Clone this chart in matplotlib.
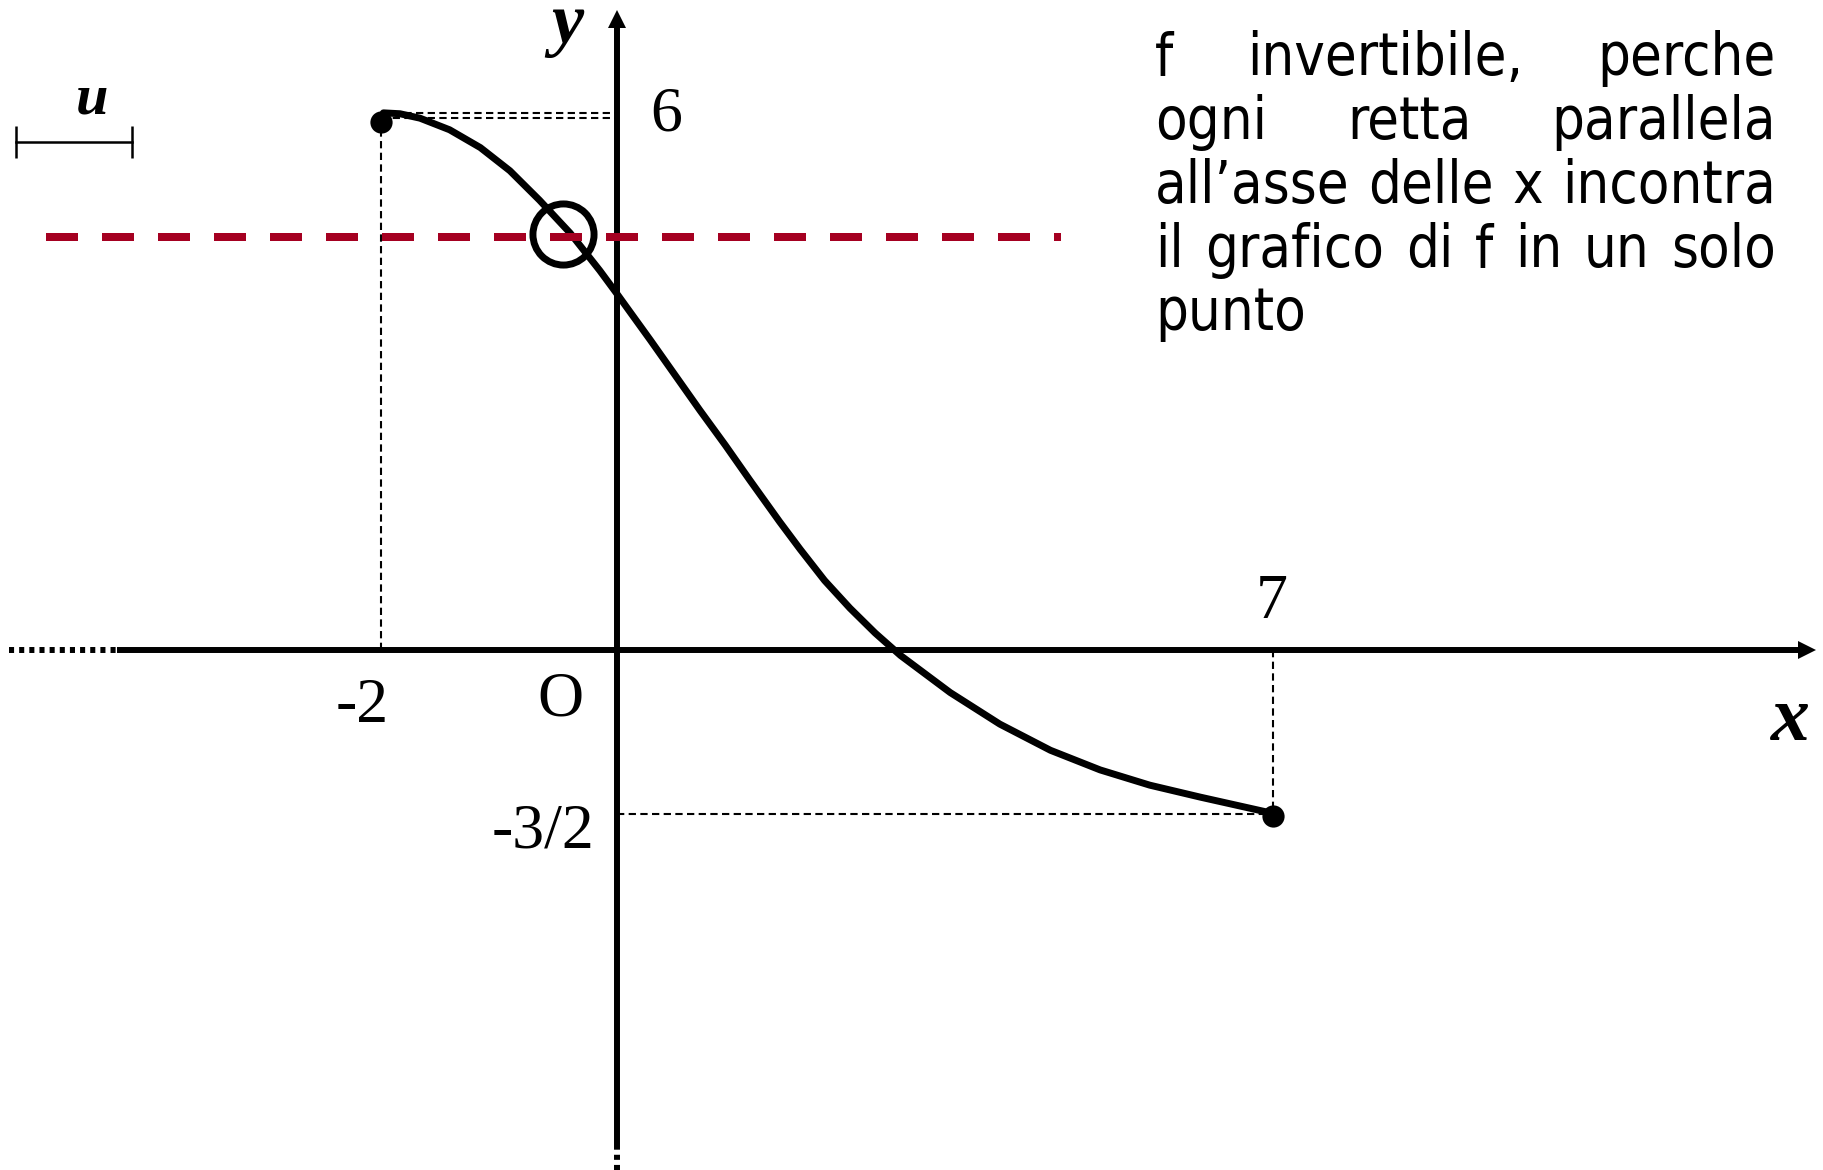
import os
import numpy as np
import matplotlib
matplotlib.use('Agg')
import matplotlib.pyplot as plt
from matplotlib import font_manager
from matplotlib.transforms import Affine2D

# ---- data ----
curve_x = [-1.98, -1.84, -1.67, -1.42, -1.16, -0.91, -0.66, -0.40, -0.15, 0.00,
           0.35, 0.88, 1.15, 1.41, 1.73, 1.95, 2.21, 2.48, 2.75, 3.02,
           3.55, 4.08, 4.62, 5.15, 5.68, 6.22, 7.00]
curve_y = [6.03, 6.02, 5.97, 5.84, 5.64, 5.38, 5.05, 4.68, 4.26, 3.99,
           3.48, 2.69, 2.30, 1.91, 1.44, 1.13, 0.78, 0.47, 0.19, -0.05,
           -0.39, -0.68, -0.92, -1.10, -1.24, -1.35, -1.50]
end_x = [-2, 7]
end_y = [6, -1.5]
dot_y = [5.93, -1.52]    # the drawn dots sit a touch below the end values
level_y = 4.64           # horizontal line y = k
level_x = [-4.83, 4.73]
hit_x, hit_y = -0.46, 4.67
x_ticks = [-2, 7]
x_tick_labels = ['-2', '7']
y_ticks = [6, -1.5]
y_tick_labels = ['6', '-3/2']
note_lines = ['f invertibile, perche',
              'ogni retta parallela',
              'all\u2019asse delle x incontra',
              'il grafico di f in un solo',
              'punto']

W, H = 1824, 1170
OX, OY = 617.5, 650.0           # origin in picture pixels (top-down)
XN, XP = 118.25, 93.71          # px per unit, x<0 / x>0 (sketch is not to scale)
YP, YN = 89.08, 109.0           # px per unit, y>0 / y<0
RED = '#a50021'


def fwd_x(x):
    x = np.asarray(x, dtype=float)
    return np.where(x < 0, x * XN, x * XP)


def inv_x(u):
    u = np.asarray(u, dtype=float)
    return np.where(u < 0, u / XN, u / XP)


def fwd_y(y):
    y = np.asarray(y, dtype=float)
    return np.where(y < 0, y * YN, y * YP)


def inv_y(v):
    v = np.asarray(v, dtype=float)
    return np.where(v < 0, v / YN, v / YP)


def dx(px):
    return float(inv_x(px - OX))


def dy(py):
    return float(inv_y(OY - py))


fig = plt.figure(figsize=(W / 100, H / 100), dpi=100)
ax = fig.add_axes([0, 0, 1, 1])
ax.set_xscale('function', functions=(fwd_x, inv_x))
ax.set_yscale('function', functions=(fwd_y, inv_y))
ax.set_xlim(dx(0), dx(W))
ax.set_ylim(dy(H), dy(0))
ax.axis('off')

pix = Affine2D().scale(1, -1).translate(0, H)   # picture pixels, y down

# axes with arrows
ax_lw = 4.3
ax.plot([dx(117), dx(1800)], [0, 0], color='black', lw=ax_lw, solid_capstyle='butt', zorder=3)
ax.plot([dx(9), dx(117)], [0, 0], color='black', lw=ax_lw, dashes=(0.85, 0.85),
        solid_capstyle='butt', dash_capstyle='butt', zorder=3)
ax.plot([dx(1807)], [0], marker='>', ms=13, color='black', mew=0, zorder=3)
ax.plot([0, 0], [dy(1148), dy(25)], color='black', lw=ax_lw, solid_capstyle='butt', zorder=3)
ax.plot([0, 0], [dy(H), dy(1148)], color='black', lw=ax_lw, dashes=(0.85, 0.85),
        dash_capstyle='butt', zorder=3)
ax.plot([0], [dy(19)], marker='^', ms=13, color='black', mew=0, zorder=3)

# guide lines to the end points
g = dict(color='black', lw=1.5, dashes=(3.5, 2.1), zorder=2)
ax.plot([end_x[0], end_x[0]], [0, end_y[0]], **g)
ax.plot([end_x[0], 0], [end_y[0] + 0.025] * 2, **g)
ax.plot([end_x[0], 0], [end_y[0] - 0.025] * 2, **g)
ax.plot([end_x[1], end_x[1]], [0, end_y[1]], **g)
ax.plot([0, end_x[1]], [end_y[1]] * 2, **g)

# the function
ax.plot(curve_x, curve_y, color='black', lw=5, solid_capstyle='round',
        solid_joinstyle='round', zorder=4)
ax.plot(end_x, dot_y, 'o', color='black', ms=16, mew=0, zorder=6)

# horizontal line and intersection
ax.plot(level_x, [level_y, level_y], color=RED, lw=5.76, dashes=(4, 3),
        dash_capstyle='butt', zorder=5)
ax.plot([hit_x], [hit_y], 'o', ms=44, mfc='none', mec='black', mew=5, zorder=6)

# unit bar
ax.plot([dx(16), dx(132)], [dy(142)] * 2, color='black', lw=1.8, marker='|',
        ms=23, mew=1.8, zorder=3)

# labels
serif = 'Liberation Serif'
pt = 0.72
offsets = {'-2': (-19, -72), '7': (-1.5, 32)}
for xv, lab in zip(x_ticks, x_tick_labels):
    ox, oy = offsets[lab]
    ax.annotate(lab, (xv, 0), xytext=(ox * pt, oy * pt), textcoords='offset points',
                ha='center', va='baseline', fontsize=46, family=serif)
ax.annotate(y_tick_labels[0], (0, y_ticks[0]), xytext=(48.5 * pt, -14.5 * pt),
            textcoords='offset points', ha='center', va='baseline', fontsize=46, family=serif)
ax.annotate(y_tick_labels[1], (0, y_ticks[1]), xytext=(-23.5 * pt, -34.5 * pt),
            textcoords='offset points', ha='right', va='baseline', fontsize=46, family=serif)
ax.annotate('O', (0, 0), xytext=(-57.5 * pt, -65 * pt), textcoords='offset points',
            ha='center', va='baseline', fontsize=46, family=serif)
fig.text(1790, 740, 'x', transform=pix, ha='center', va='baseline', fontsize=56,
         family=serif, style='italic', weight='bold')
fig.text(567, 43, 'y', transform=pix, ha='center', va='baseline', fontsize=52,
         family=serif, style='italic', weight='bold')
fig.text(92, 113, 'u', transform=pix, ha='center', va='baseline', fontsize=42,
         family=serif, style='italic', weight='bold')


# justified note, top right
def note_font():
    wanted = ['DejaVuSansCondensed.ttf', 'LiberationSansNarrow-Regular.ttf']
    files = {os.path.basename(f.fname): f.fname for f in font_manager.fontManager.ttflist}
    for name in wanted:
        if name in files:
            return font_manager.FontProperties(fname=files[name])
    return font_manager.FontProperties(family='DejaVu Sans')


renderer = fig.canvas.get_renderer()


def width(s, fp):
    t = fig.text(0, 0, s, fontproperties=fp)
    w = t.get_window_extent(renderer).width
    t.remove()
    return w


left, right = 1155, 1776
fp = note_font()
fp.set_size(41.5)
widest = width(note_lines[2], fp)
if widest > right - left:
    fp.set_size(41.5 * (right - left) / widest)

baselines = [75, 139, 203, 267, 330]
for i, (line, base) in enumerate(zip(note_lines, baselines)):
    words = line.split()
    if i == len(note_lines) - 1 or len(words) == 1:
        fig.text(left, base, line, transform=pix, ha='left', va='baseline', fontproperties=fp)
        continue
    ws = [width(w_, fp) for w_ in words]
    gap = (right - left - sum(ws)) / (len(words) - 1)
    x = left
    for w_, wd in zip(words, ws):
        fig.text(x, base, w_, transform=pix, ha='left', va='baseline', fontproperties=fp)
        x += wd + gap

fig.savefig('out.png', dpi=100)
